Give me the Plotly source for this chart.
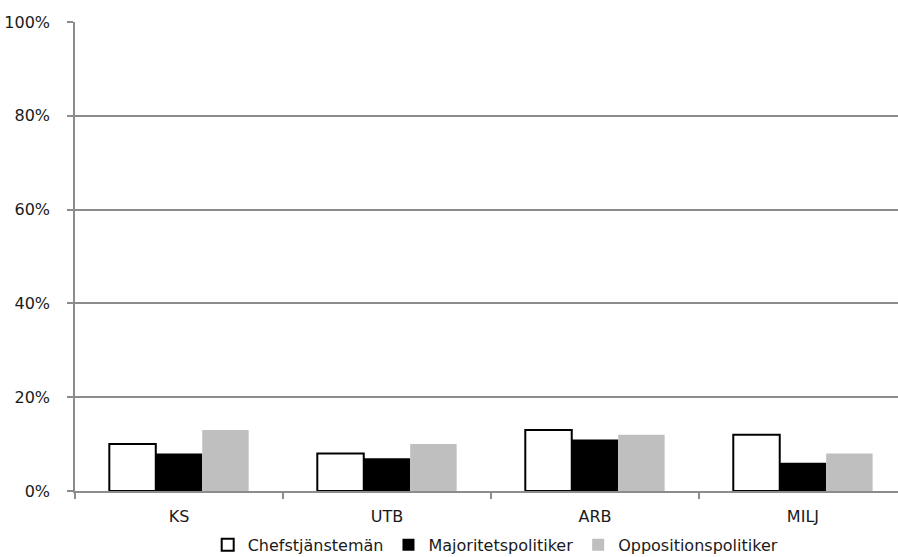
import plotly.graph_objects as go

categories = ["KS", "UTB", "ARB", "MILJ"]
chefstjanstemán = [10, 8, 13, 12]
majoritetspolitiker = [8, 7, 11, 6]
oppositionspolitiker = [13, 10, 12, 8]
y_ticks = [0, 20, 40, 60, 80, 100]
y_tick_labels = ["0%", "20%", "40%", "60%", "80%", "100%"]

FONT = "DejaVu Sans"
GRID = "#8c8c8c"
TEXT = "#1a1a1a"

fig = go.Figure()
fig.add_trace(go.Bar(
    name="Chefstjänstemän", x=categories, y=chefstjanstemán,
    marker=dict(color="white", line=dict(color="black", width=2)),
))
fig.add_trace(go.Bar(
    name="Majoritetspolitiker", x=categories, y=majoritetspolitiker,
    marker=dict(color="black", line=dict(color="black", width=0)),
))
fig.add_trace(go.Bar(
    name="Oppositionspolitiker", x=categories, y=oppositionspolitiker,
    marker=dict(color="#bfbfbf", line=dict(color="#bfbfbf", width=0)),
))

fig.update_layout(
    width=898, height=557,
    margin=dict(l=75, r=0, t=22, b=66),
    paper_bgcolor="white", plot_bgcolor="white",
    barmode="group", bargap=0.33, bargroupgap=0,
    font=dict(family=FONT, size=16, color=TEXT),
    showlegend=True,
    legend=dict(
        orientation="h", xref="container", yref="container",
        x=0.552, xanchor="center", y=0.022, yanchor="middle",
        font=dict(family=FONT, size=16, color=TEXT),
        itemwidth=30, tracegroupgap=0, bgcolor="rgba(0,0,0,0)",
    ),
)

fig.update_xaxes(
    type="category", range=[-0.5, 3.457],
    showline=True, linecolor=GRID, linewidth=1.5,
    ticks="outside", tickson="boundaries", ticklen=6, tickcolor=GRID, tickwidth=1.5,
    ticklabelstandoff=10,
    showgrid=False, tickfont=dict(family=FONT, size=16, color=TEXT),
)
fig.update_yaxes(
    range=[0, 100], tickmode="array", tickvals=y_ticks, ticktext=y_tick_labels,
    showline=True, linecolor=GRID, linewidth=1.5,
    ticks="outside", ticklen=6, tickcolor=GRID, tickwidth=1.5,
    ticklabelstandoff=14,
    showgrid=True, gridcolor=GRID, gridwidth=1.5,
    zeroline=False, tickfont=dict(family=FONT, size=16, color=TEXT),
)

fig.write_html("out.html")
